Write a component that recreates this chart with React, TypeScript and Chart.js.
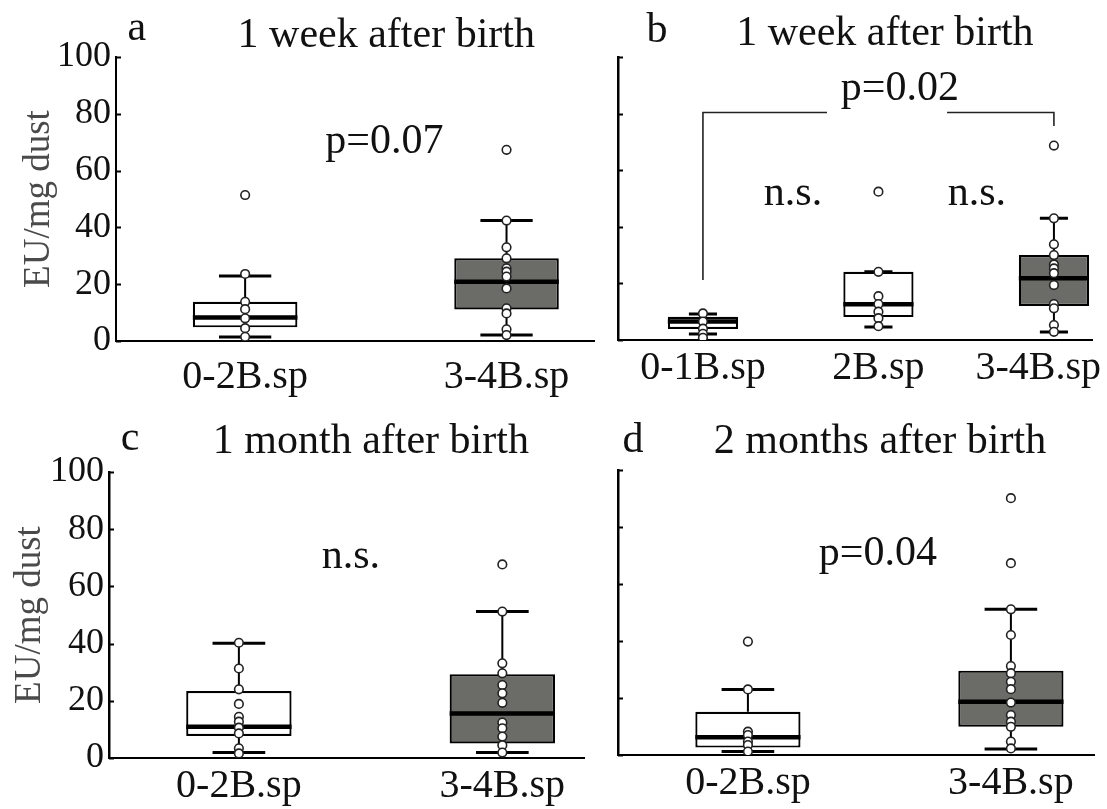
import React, { useEffect, useRef } from 'react';
import { Chart, registerables } from 'chart.js';

Chart.register(...registerables);

const FONT = "'Liberation Serif', 'Times New Roman', serif";

// ---------- Panel a : 1 week after birth ----------
const aCategories = ['0-2B.sp', '3-4B.sp'];
const aQ1 = [4.8, 11.1];
const aMedian = [8.3, 20.9];
const aQ3 = [13.8, 29.1];
const aLow = [1.4, 2.1];
const aHigh = [22.9, 42.4];
const aPoints = [
  [51.4, 23.6, 13.8, 11.2, 8.0, 4.5, 1.5],
  [67.3, 42.4, 33.0, 29.1, 25.6, 24.4, 22.7, 18.5, 11.5, 9.7, 4.1, 2.1],
];

// ---------- Panel b : 1 week after birth ----------
const bCategories = ['0-1B.sp', '2B.sp', '3-4B.sp'];
const bQ1 = [3.9, 8.1, 12.0];
const bMedian = [6.5, 12.6, 21.8];
const bQ3 = [8.2, 24.1, 30.0];
const bLow = [2.1, 4.6, 2.8];
const bHigh = [9.2, 24.1, 43.0];
const bPoints = [
  [9.4, 6.5, 4.0, 2.2, 0.8],
  [52.4, 24.1, 15.5, 12.7, 10.0, 7.7, 4.9],
  [68.7, 43.0, 33.8, 30.0, 26.7, 25.3, 23.6, 19.4, 12.7, 11.2, 5.3, 2.9],
];

// ---------- Panel c : 1 month after birth ----------
const cCategories = ['0-2B.sp', '3-4B.sp'];
const cQ1 = [7.7, 5.1];
const cMedian = [10.9, 15.6];
const cQ3 = [23.4, 29.3];
const cLow = [1.9, 1.9];
const cHigh = [40.1, 51.2];
const cPoints = [
  [40.3, 31.3, 24.0, 18.9, 14.4, 12.7, 10.6, 8.6, 3.4, 1.6],
  [67.7, 51.2, 33.1, 29.6, 25.5, 22.6, 19.3, 12.4, 10.4, 7.5, 4.5, 1.9],
];

// ---------- Panel d : 2 months after birth ----------
const dCategories = ['0-2B.sp', '3-4B.sp'];
const dQ1 = [2.6, 9.9];
const dMedian = [6.2, 18.7];
const dQ3 = [15.2, 29.6];
const dLow = [1.2, 2.1];
const dHigh = [23.0, 51.1];
const dPoints = [
  [39.8, 23.0, 8.2, 7.0, 4.7, 3.5, 1.2],
  [90.1, 67.3, 51.1, 42.1, 31.2, 28.7, 25.7, 23.1, 18.4, 14.0, 11.7, 9.9, 4.7, 2.3],
];

const yTickValues = [0, 20, 40, 60, 80, 100];
const yAxisTitle = 'EU/mg dust';

type Txt = { text: string; x: number; y: number; size: number };

type PanelSpec = {
  categories: string[];
  q1: number[];
  median: number[];
  q3: number[];
  low: number[];
  high: number[];
  points: number[][];
  fills: string[];
  texts: Txt[];
  bracket?: { from: number; to: number; level: number; leftFoot: number; rightFoot: number; gapFrom: number; gapTo: number };
  left: number; top: number; width: number; height: number;
  padRight: number; padTop: number; yWidth: number; xHeight: number; xMin: number; xMax: number;
  yLabels: boolean; xLabelPad: number; capHalf: number; yBorder: number; titlePad: number;
};

const WHITE = '#ffffff';
const GREY = '#6b6b67';

const panels: PanelSpec[] = [
  {
    categories: aCategories, q1: aQ1, median: aMedian, q3: aQ3, low: aLow, high: aHigh, points: aPoints,
    fills: [WHITE, GREY],
    texts: [
      { text: 'a', x: 0.586, y: 106, size: 42 },
      { text: '1 week after birth', x: 1.54, y: 103.5, size: 42 },
      { text: 'p=0.07', x: 1.533, y: 66.2, size: 42 },
    ],
    left: 0, top: 0, width: 600, height: 400,
    padRight: 3, padTop: 57, yWidth: 116, xHeight: 59, xMin: 0.506, xMax: 2.335,
    yLabels: true, xLabelPad: 12, capHalf: 0.1, yBorder: 2, titlePad: 17,
  },
  {
    categories: bCategories, q1: bQ1, median: bMedian, q3: bQ3, low: bLow, high: bHigh, points: bPoints,
    fills: [WHITE, WHITE, GREY],
    texts: [
      { text: 'b', x: 0.738, y: 105.3, size: 42 },
      { text: '1 week after birth', x: 2.037, y: 104.2, size: 42 },
      { text: 'p=0.02', x: 2.122, y: 84.8, size: 42 },
      { text: 'n.s.', x: 1.513, y: 47.7, size: 42 },
      { text: 'n.s.', x: 2.561, y: 47.7, size: 42 },
    ],
    bracket: { from: 1, to: 3, level: 80.4, leftFoot: 21.2, rightFoot: 75.6, gapFrom: 1.707, gapTo: 2.391 },
    left: 600, top: 0, width: 507, height: 400,
    padRight: 15, padTop: 57, yWidth: 18, xHeight: 60, xMin: 0.516, xMax: 3.217,
    yLabels: false, xLabelPad: 4, capHalf: 0.08, yBorder: 2.5, titlePad: 0,
  },
  {
    categories: cCategories, q1: cQ1, median: cMedian, q3: cQ3, low: cLow, high: cHigh, points: cPoints,
    fills: [WHITE, GREY],
    texts: [
      { text: 'c', x: 0.587, y: 107.7, size: 42 },
      { text: '1 month after birth', x: 1.501, y: 106.6, size: 42 },
      { text: 'n.s.', x: 1.425, y: 66.4, size: 42 },
    ],
    left: 0, top: 400, width: 600, height: 409,
    padRight: 16, padTop: 72, yWidth: 109, xHeight: 51, xMin: 0.507, xMax: 2.31,
    yLabels: true, xLabelPad: 4, capHalf: 0.1, yBorder: 2.5, titlePad: 8,
  },
  {
    categories: dCategories, q1: dQ1, median: dMedian, q3: dQ3, low: dLow, high: dHigh, points: dPoints,
    fills: [WHITE, GREY],
    texts: [
      { text: 'd', x: 0.563, y: 106.3, size: 42 },
      { text: '2 months after birth', x: 1.502, y: 106, size: 42 },
      { text: 'p=0.04', x: 1.494, y: 66.7, size: 42 },
    ],
    left: 600, top: 400, width: 507, height: 409,
    padRight: 13, padTop: 70, yWidth: 18, xHeight: 54, xMin: 0.506, xMax: 2.316,
    yLabels: false, xLabelPad: 4, capHalf: 0.1, yBorder: 2.5, titlePad: 0,
  },
];

function makeChart(canvas: HTMLCanvasElement, p: PanelSpec) {
  const xs = p.categories.map((_, i) => i + 1);
  const boxHalf = 0.2;
  const capHalf = p.capHalf;
  const gap = (x: number) => ({ x, y: null as any });

  const boxes = xs.map((x, i) => ({ x, y: [p.q1[i], p.q3[i]] }));
  const medians = xs.flatMap((x, i) => [
    { x: x - boxHalf, y: p.median[i] }, { x: x + boxHalf, y: p.median[i] }, gap(x + boxHalf),
  ]);
  const stems = xs.flatMap((x, i) => [
    { x, y: p.q3[i] }, { x, y: p.high[i] }, gap(x),
    { x, y: p.q1[i] }, { x, y: p.low[i] }, gap(x),
  ]);
  const caps = xs.flatMap((x, i) => [
    { x: x - capHalf, y: p.high[i] }, { x: x + capHalf, y: p.high[i] }, gap(x + capHalf),
    { x: x - capHalf, y: p.low[i] }, { x: x + capHalf, y: p.low[i] }, gap(x + capHalf),
  ]);
  const pts = xs.flatMap((x, i) => p.points[i].map((v) => ({ x, y: v })));

  const datasets: any[] = [
    {
      type: 'scatter', data: pts, pointRadius: 4.3, pointBackgroundColor: '#ffffff',
      pointBorderColor: '#222222', pointBorderWidth: 1.6, order: 0,
    },
    {
      type: 'line', data: medians, borderColor: '#000000', borderWidth: 4.5, pointRadius: 0,
      borderCapStyle: 'butt', order: 1, spanGaps: false,
    },
    {
      type: 'line', data: caps, borderColor: '#000000', borderWidth: 3, pointRadius: 0,
      borderCapStyle: 'butt', order: 2, spanGaps: false,
    },
    {
      type: 'line', data: stems, borderColor: '#000000', borderWidth: 2, pointRadius: 0,
      order: 2, spanGaps: false,
    },
    {
      type: 'bar', data: boxes, backgroundColor: p.fills, borderColor: '#000000', borderWidth: 2.2,
      borderSkipped: false, categoryPercentage: 1, barPercentage: 0.4, order: 3,
    },
  ];

  if (p.bracket) {
    const br = p.bracket;
    datasets.push({
      type: 'line',
      data: [
        { x: br.from, y: br.leftFoot }, { x: br.from, y: br.level }, { x: br.gapFrom, y: br.level },
        gap(br.gapFrom),
        { x: br.gapTo, y: br.level }, { x: br.to, y: br.level }, { x: br.to, y: br.rightFoot },
      ],
      borderColor: '#222222', borderWidth: 1.6, pointRadius: 0, order: 4, spanGaps: false,
      borderJoinStyle: 'miter',
    });
  }

  const decor = {
    id: 'decor',
    beforeDraw(chart: any) {
      // keep the x tick labels inside the canvas
      const xS = chart.scales.x;
      const items = xS.getLabelItems();
      const ctx = chart.ctx;
      ctx.save();
      items.forEach((it: any) => {
        ctx.font = it.font.string;
        const w = ctx.measureText(String(it.label)).width;
        const cx = it.options.translation[0];
        const limit = chart.width - 6;
        if (cx + w / 2 > limit) it.options.translation[0] = limit - w / 2;
      });
      ctx.restore();
    },
    afterDraw(chart: any) {
      const { ctx, chartArea } = chart;
      const xS = chart.scales.x;
      const yS = chart.scales.y;
      ctx.save();
      ctx.strokeStyle = '#000000';
      ctx.lineWidth = 2;
      yS.ticks.forEach((t: any) => {
        const py = Math.round(yS.getPixelForValue(t.value)) + 0.5;
        ctx.beginPath();
        ctx.moveTo(chartArea.left, py);
        ctx.lineTo(chartArea.left + 5, py);
        ctx.stroke();
      });
      ctx.fillStyle = '#111111';
      ctx.textAlign = 'center';
      ctx.textBaseline = 'alphabetic';
      p.texts.forEach((t) => {
        ctx.font = `${t.size}px ${FONT}`;
        ctx.fillText(t.text, xS.getPixelForValue(t.x), yS.getPixelForValue(t.y));
      });
      ctx.restore();
    },
  };

  return new Chart(canvas, {
    type: 'bar',
    data: { datasets },
    plugins: [decor],
    options: {
      animation: false,
      responsive: false,
      events: [],
      layout: { padding: { left: 0, right: p.padRight, top: p.padTop, bottom: 0 } },
      plugins: { legend: { display: false }, tooltip: { enabled: false }, title: { display: false } },
      scales: {
        x: {
          type: 'linear',
          offset: false,
          min: p.xMin,
          max: p.xMax,
          afterBuildTicks: (scale: any) => {
            scale.ticks = xs.map((v) => ({ value: v }));
          },
          afterFit: (scale: any) => {
            scale.height = p.xHeight;
            scale.paddingLeft = 0;
            scale.paddingRight = 0;
          },
          ticks: {
            autoSkip: false,
            maxRotation: 0,
            padding: p.xLabelPad,
            color: '#111111',
            font: { family: FONT, size: 40 },
            callback: (v: any) => p.categories[Math.round(v) - 1] ?? '',
          },
          grid: { display: false, drawTicks: false },
          border: { display: true, color: '#000000', width: 2 },
        },
        y: {
          type: 'linear',
          min: 0,
          max: 100,
          afterBuildTicks: (scale: any) => {
            scale.ticks = yTickValues.map((v) => ({ value: v }));
          },
          afterFit: (scale: any) => {
            scale.width = p.yWidth;
            scale.paddingTop = 0;
            scale.paddingBottom = 0;
          },
          ticks: {
            display: p.yLabels,
            padding: 5,
            color: '#111111',
            font: { family: FONT, size: 36 },
          },
          title: {
            display: p.yLabels,
            text: yAxisTitle,
            color: '#4a4a4a',
            font: { family: FONT, size: 37 },
            padding: { top: p.titlePad, bottom: 0 },
          },
          grid: { display: false, drawTicks: false },
          border: { display: true, color: '#000000', width: p.yBorder },
        },
      },
    } as any,
  });
}

function Panel({ spec }: { spec: PanelSpec }) {
  const ref = useRef<HTMLCanvasElement | null>(null);
  useEffect(() => {
    if (!ref.current) return;
    const chart = makeChart(ref.current, spec);
    return () => chart.destroy();
  }, [spec]);
  return (
    <canvas
      ref={ref}
      width={spec.width}
      height={spec.height}
      style={{ position: 'absolute', left: spec.left, top: spec.top, width: spec.width, height: spec.height }}
    />
  );
}

export default function App() {
  return (
    <div style={{ position: 'absolute', left: 0, top: 0, width: 1107, height: 809, background: '#ffffff', overflow: 'hidden' }}>
      {panels.map((p, i) => (
        <Panel key={i} spec={p} />
      ))}
    </div>
  );
}
